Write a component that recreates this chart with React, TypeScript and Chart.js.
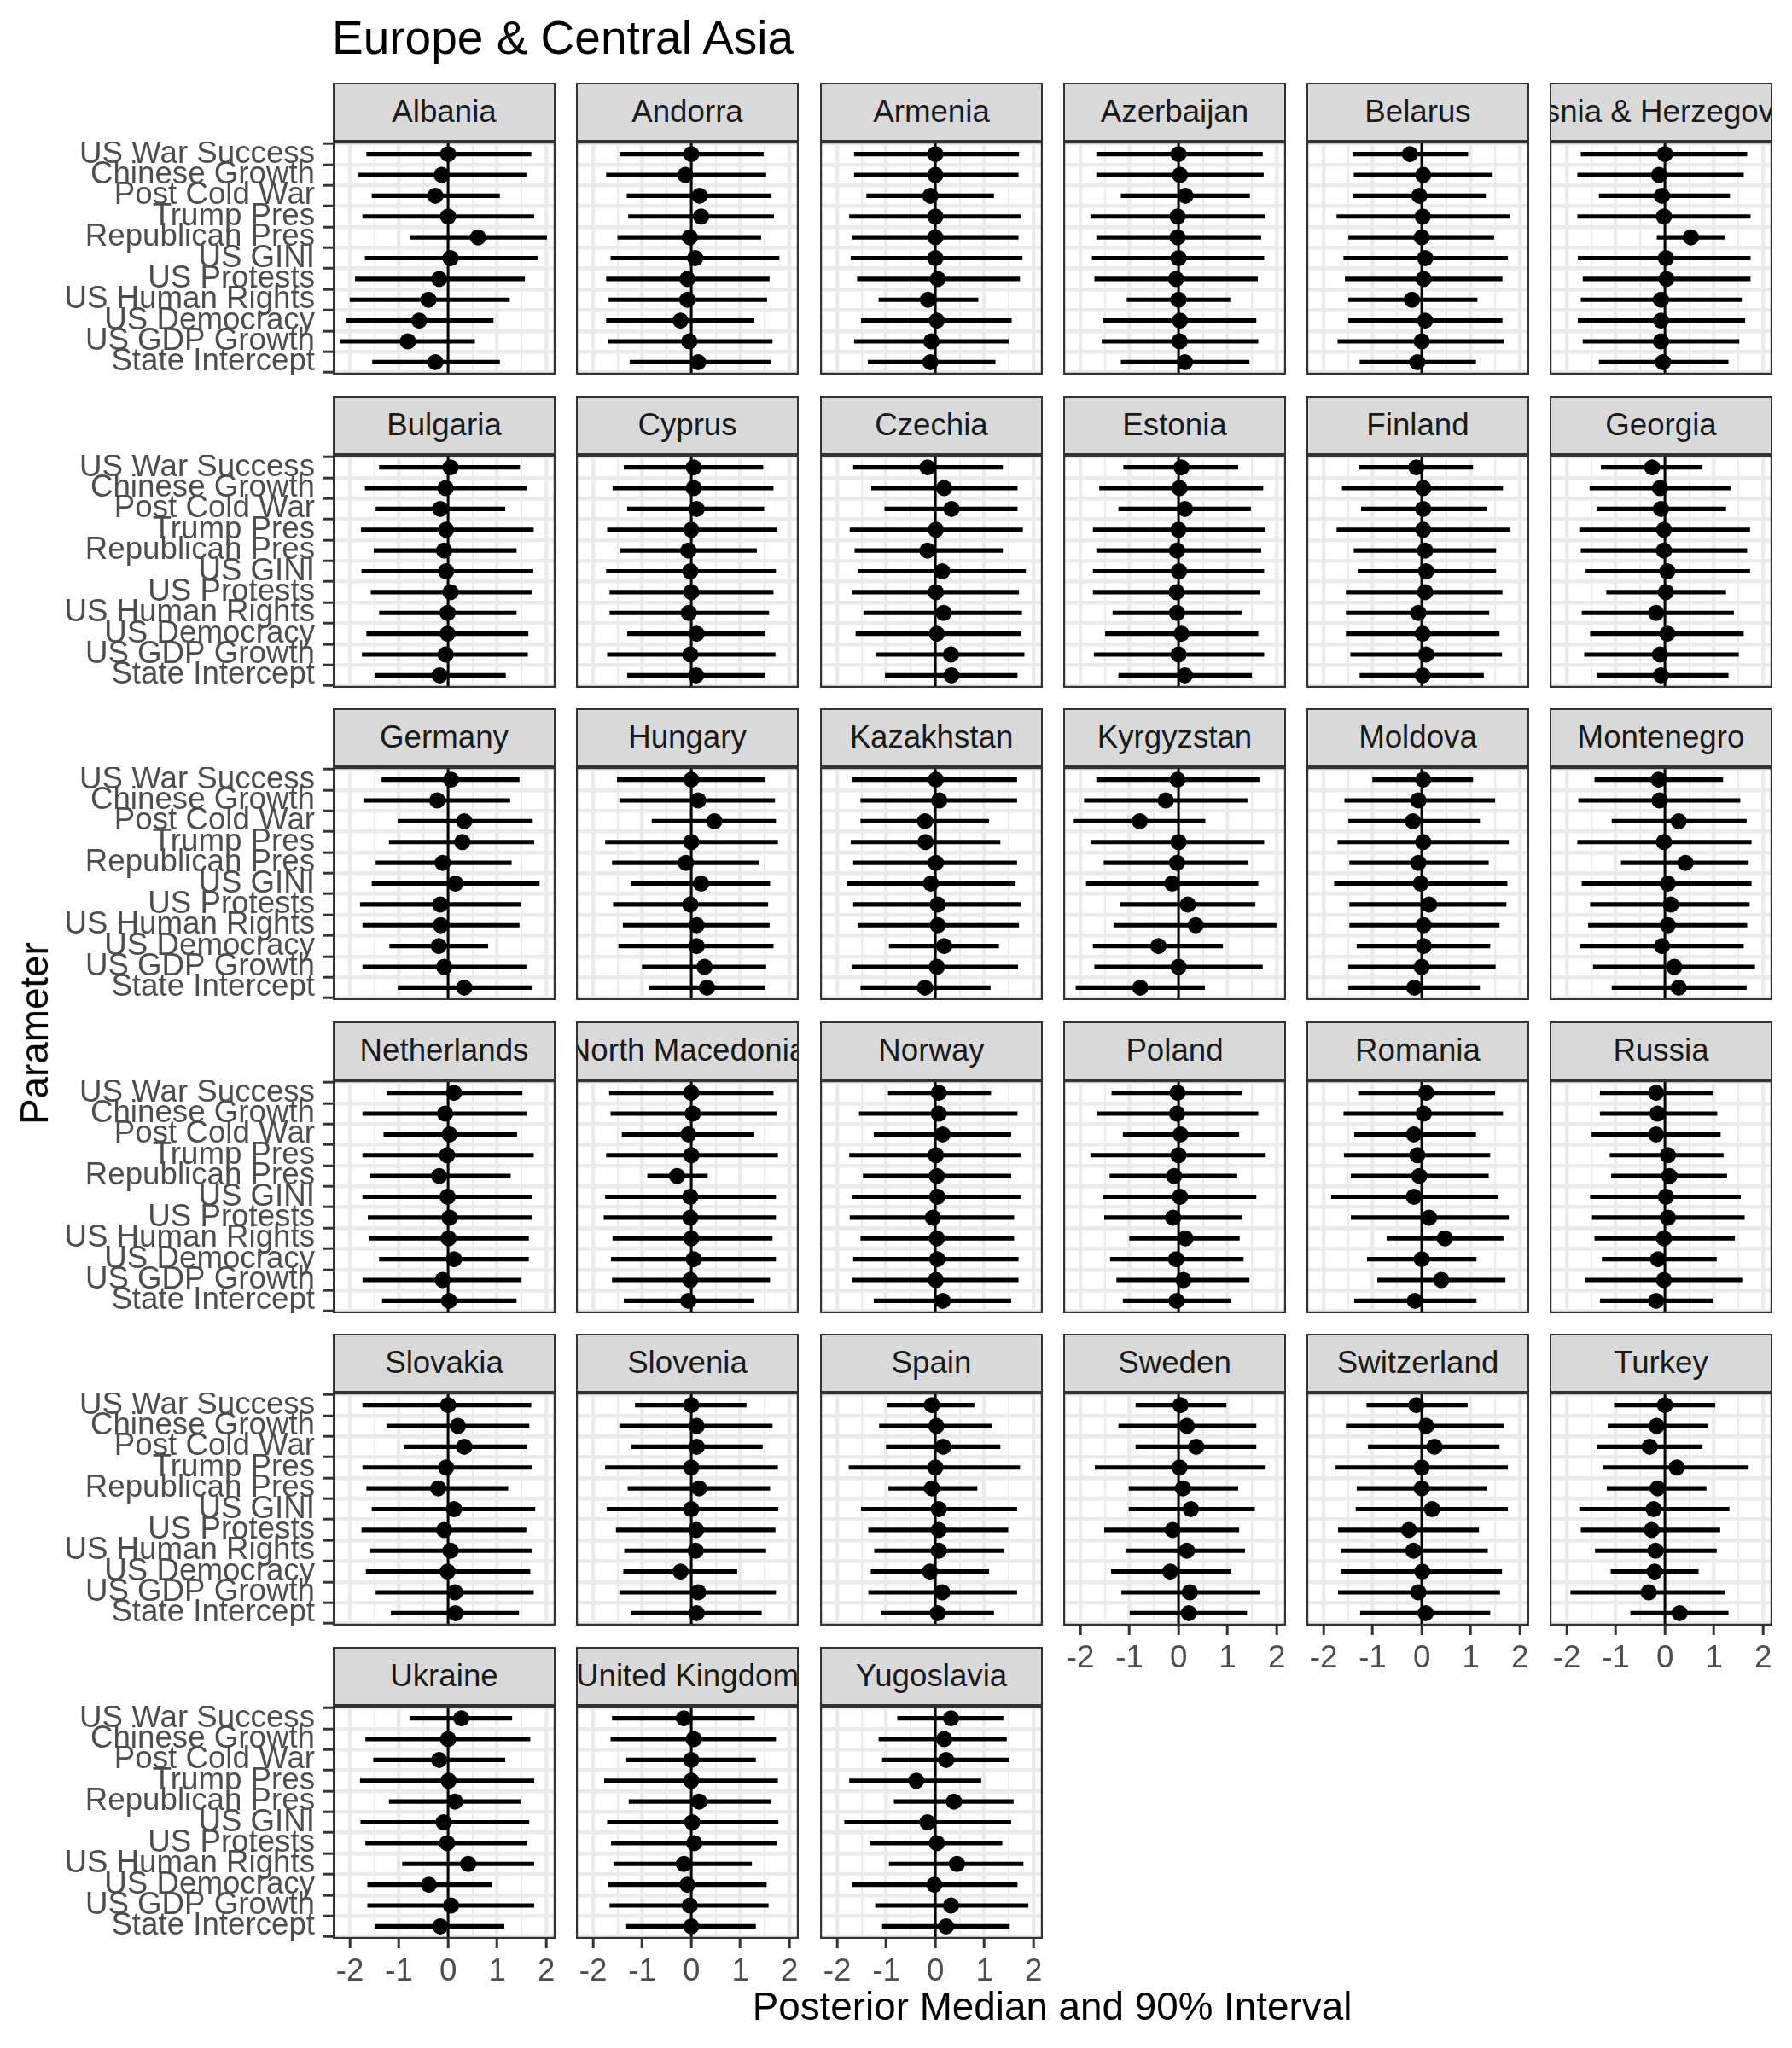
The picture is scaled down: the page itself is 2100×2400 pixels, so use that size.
import React, { useEffect, useRef } from 'react';
import { Chart, registerables } from 'chart.js';

Chart.register(...registerables);

// ---------------- data ----------------
const TITLE = 'Europe & Central Asia';
const X_TITLE = 'Posterior Median and 90% Interval';
const Y_TITLE = 'Parameter';

const PARAMETERS = [
  'US War Success',
  'Chinese Growth',
  'Post Cold War',
  'Trump Pres',
  'Republican Pres',
  'US GINI',
  'US Protests',
  'US Human Rights',
  'US Democracy',
  'US GDP Growth',
  'State Intercept',
];

const COUNTRIES = [
  'Albania', 'Andorra', 'Armenia', 'Azerbaijan', 'Belarus', 'Bosnia & Herzegovina',
  'Bulgaria', 'Cyprus', 'Czechia', 'Estonia', 'Finland', 'Georgia',
  'Germany', 'Hungary', 'Kazakhstan', 'Kyrgyzstan', 'Moldova', 'Montenegro',
  'Netherlands', 'North Macedonia', 'Norway', 'Poland', 'Romania', 'Russia',
  'Slovakia', 'Slovenia', 'Spain', 'Sweden', 'Switzerland', 'Turkey',
  'Ukraine', 'United Kingdom', 'Yugoslavia',
];

const X_MAJOR_TICKS = [-2, -1, 0, 1, 2];
const X_MINOR_TICKS = [-1.5, -0.5, 0.5, 1.5];

// lower bound of 90% interval, one row per country, in PARAMETERS order
const LOWER: number[][] = [
  [-1.66, -1.83, -1.55, -1.74, -0.77, -1.69, -1.89, -2.0, -2.07, -2.19, -1.54], // Albania
  [-1.45, -1.73, -1.31, -1.28, -1.5, -1.64, -1.73, -1.68, -1.73, -1.69, -1.25], // Andorra
  [-1.65, -1.65, -1.4, -1.75, -1.69, -1.72, -1.59, -1.15, -1.51, -1.65, -1.37], // Armenia
  [-1.67, -1.67, -1.17, -1.79, -1.67, -1.76, -1.71, -1.05, -1.53, -1.56, -1.17], // Azerbaijan
  [-1.4, -1.38, -1.4, -1.73, -1.49, -1.59, -1.56, -1.49, -1.49, -1.71, -1.26], // Belarus
  [-1.71, -1.78, -1.34, -1.78, -0.16, -1.77, -1.67, -1.71, -1.77, -1.67, -1.34], // Bosnia
  [-1.4, -1.69, -1.47, -1.77, -1.51, -1.76, -1.57, -1.4, -1.66, -1.75, -1.49], // Bulgaria
  [-1.37, -1.6, -1.3, -1.71, -1.44, -1.73, -1.66, -1.66, -1.3, -1.71, -1.3], // Cyprus
  [-1.67, -1.3, -1.03, -1.74, -1.64, -1.57, -1.69, -1.46, -1.62, -1.21, -1.02], // Czechia
  [-1.12, -1.61, -1.22, -1.74, -1.67, -1.74, -1.74, -1.34, -1.49, -1.72, -1.22], // Estonia
  [-1.28, -1.62, -1.23, -1.73, -1.38, -1.3, -1.54, -1.54, -1.54, -1.45, -1.26], // Finland
  [-1.3, -1.53, -1.38, -1.74, -1.71, -1.61, -1.19, -1.69, -1.52, -1.64, -1.38], // Georgia
  [-1.35, -1.72, -1.02, -1.2, -1.47, -1.55, -1.79, -1.74, -1.19, -1.74, -1.02], // Germany
  [-1.51, -1.46, -0.8, -1.75, -1.61, -1.22, -1.59, -1.39, -1.48, -1.0, -0.86], // Hungary
  [-1.7, -1.52, -1.52, -1.72, -1.67, -1.8, -1.67, -1.58, -0.94, -1.7, -1.52], // Kazakhstan
  [-1.67, -1.92, -2.13, -1.79, -1.52, -1.88, -1.18, -1.32, -1.74, -1.71, -2.09], // Kyrgyzstan
  [-1.0, -1.57, -1.49, -1.71, -1.47, -1.78, -1.47, -1.47, -1.32, -1.49, -1.49], // Moldova
  [-1.43, -1.76, -1.08, -1.78, -0.89, -1.69, -1.52, -1.56, -1.72, -1.46, -1.08], // Montenegro
  [-1.25, -1.74, -1.31, -1.74, -1.58, -1.74, -1.63, -1.6, -1.4, -1.74, -1.34], // Netherlands
  [-1.67, -1.64, -1.41, -1.73, -0.89, -1.75, -1.78, -1.6, -1.63, -1.61, -1.37], // North Macedonia
  [-0.96, -1.55, -1.25, -1.75, -1.47, -1.69, -1.74, -1.52, -1.67, -1.69, -1.25], // Norway
  [-1.36, -1.65, -1.13, -1.79, -1.4, -1.54, -1.51, -1.0, -1.39, -1.26, -1.13], // Poland
  [-1.29, -1.59, -1.37, -1.58, -1.44, -1.84, -1.44, -0.71, -1.11, -0.9, -1.37], // Romania
  [-1.32, -1.32, -1.49, -1.12, -1.09, -1.52, -1.48, -1.43, -1.28, -1.62, -1.32], // Russia
  [-1.74, -1.25, -0.89, -1.74, -1.66, -1.55, -1.76, -1.58, -1.67, -1.47, -1.16], // Slovakia
  [-1.14, -1.46, -1.22, -1.75, -1.29, -1.72, -1.53, -1.36, -1.38, -1.46, -1.22], // Slovenia
  [-0.97, -1.14, -1.0, -1.76, -0.95, -1.51, -1.36, -1.24, -1.31, -1.36, -1.11], // Spain
  [-0.87, -1.22, -0.87, -1.7, -1.01, -1.01, -1.51, -1.06, -1.37, -1.16, -0.99], // Sweden
  [-1.12, -1.54, -1.09, -1.75, -1.32, -1.34, -1.7, -1.64, -1.64, -1.7, -1.25], // Switzerland
  [-1.03, -1.16, -1.37, -1.25, -1.18, -1.74, -1.71, -1.42, -1.1, -1.92, -0.7], // Turkey
  [-0.78, -1.68, -1.52, -1.79, -1.2, -1.78, -1.68, -0.93, -1.64, -1.64, -1.49], // Ukraine
  [-1.61, -1.64, -1.32, -1.77, -1.27, -1.71, -1.63, -1.58, -1.69, -1.66, -1.32], // United Kingdom
  [-0.77, -1.15, -1.08, -1.75, -0.84, -1.85, -1.32, -0.94, -1.69, -1.22, -1.08], // Yugoslavia
];

// posterior median
const MEDIAN: number[][] = [
  [0, -0.13, -0.26, 0, 0.61, 0.05, -0.18, -0.4, -0.59, -0.82, -0.26], // Albania
  [0, -0.12, 0.17, 0.2, -0.03, 0.08, -0.08, -0.08, -0.22, -0.04, 0.14], // Andorra
  [0, 0, -0.1, 0, 0, 0, 0.05, -0.15, 0.03, -0.08, -0.1], // Armenia
  [0, 0.03, 0.14, -0.02, -0.02, 0, -0.05, 0, 0.03, 0.02, 0.13], // Azerbaijan
  [-0.24, 0.03, -0.05, 0.02, 0, 0.07, 0.04, -0.2, 0.07, 0, -0.09], // Belarus
  [0, -0.12, -0.06, -0.02, 0.53, 0.02, 0.03, -0.08, -0.08, -0.08, -0.04], // Bosnia
  [0.05, -0.05, -0.16, -0.04, -0.08, -0.04, 0.05, -0.01, -0.01, -0.05, -0.17], // Bulgaria
  [0.05, 0.05, 0.11, 0, -0.06, -0.02, 0, -0.05, 0.11, -0.02, 0.1], // Cyprus
  [-0.16, 0.18, 0.33, 0.01, -0.16, 0.14, 0.01, 0.17, 0.03, 0.32, 0.33], // Czechia
  [0.06, 0.02, 0.13, 0, -0.03, 0.01, -0.04, -0.03, 0.06, 0, 0.13], // Estonia
  [-0.11, 0.03, 0.03, 0.03, 0.07, 0.09, 0.07, -0.07, 0.02, 0.09, 0.02], // Finland
  [-0.26, -0.1, -0.08, -0.02, -0.02, 0.05, 0.02, -0.18, 0.05, -0.1, -0.08], // Georgia
  [0.06, -0.22, 0.33, 0.29, -0.11, 0.15, -0.16, -0.15, -0.19, -0.08, 0.33], // Germany
  [0, 0.14, 0.47, 0, -0.11, 0.2, -0.02, 0.11, 0.11, 0.27, 0.32], // Hungary
  [0.01, 0.08, -0.21, -0.2, 0.01, -0.09, 0.05, 0.05, 0.18, 0.03, -0.21], // Kazakhstan
  [-0.02, -0.26, -0.79, 0, -0.03, -0.13, 0.19, 0.35, -0.41, 0, -0.78], // Kyrgyzstan
  [0.03, -0.07, -0.18, 0.03, -0.07, -0.02, 0.15, 0.04, 0.04, 0, -0.15], // Moldova
  [-0.13, -0.11, 0.28, -0.02, 0.42, 0.06, 0.12, 0.06, -0.06, 0.19, 0.28], // Montenegro
  [0.12, -0.06, 0.03, -0.02, -0.18, -0.01, 0.03, 0.01, 0.12, -0.11, 0.02], // Netherlands
  [0, 0.03, -0.06, 0, -0.29, -0.02, -0.02, 0, 0.05, -0.02, -0.06], // North Macedonia
  [0.07, 0.07, 0.15, 0.01, 0.03, 0.04, -0.05, 0.03, 0.04, 0.01, 0.15], // Norway
  [-0.02, -0.03, 0.04, 0, -0.09, 0.03, -0.11, 0.14, -0.05, 0.1, -0.04], // Poland
  [0.09, 0.04, -0.16, -0.09, -0.05, -0.16, 0.15, 0.47, 0, 0.4, -0.14], // Romania
  [-0.18, -0.15, -0.18, 0.06, 0.09, 0.02, 0.06, -0.02, -0.14, -0.02, -0.18], // Russia
  [0, 0.2, 0.33, -0.04, -0.2, 0.12, -0.08, 0.05, -0.01, 0.14, 0.15], // Slovakia
  [0, 0.11, 0.11, 0, 0.16, 0, 0.1, 0.09, -0.22, 0.14, 0.11], // Slovenia
  [-0.07, 0.02, 0.16, 0, -0.07, 0.07, 0.07, 0.07, -0.11, 0.14, 0.05], // Spain
  [0.04, 0.17, 0.36, 0.02, 0.09, 0.25, -0.12, 0.17, -0.17, 0.23, 0.21], // Sweden
  [-0.11, 0.09, 0.26, 0, 0, 0.21, -0.26, -0.17, 0.01, -0.07, 0.08], // Switzerland
  [0, -0.17, -0.31, 0.24, -0.15, -0.23, -0.27, -0.19, -0.21, -0.33, 0.3], // Turkey
  [0.27, 0, -0.18, 0.01, 0.14, -0.09, -0.02, 0.41, -0.39, 0.06, -0.16], // Ukraine
  [-0.15, 0.05, 0, 0, 0.16, 0.02, 0.06, -0.15, -0.08, -0.03, 0], // United Kingdom
  [0.32, 0.18, 0.22, -0.39, 0.38, -0.16, 0.03, 0.44, -0.02, 0.32, 0.22], // Yugoslavia
];

// upper bound of 90% interval
const UPPER: number[][] = [
  [1.69, 1.59, 1.05, 1.75, 2.01, 1.82, 1.56, 1.25, 0.92, 0.54, 1.05], // Albania
  [1.47, 1.52, 1.63, 1.68, 1.42, 1.79, 1.59, 1.54, 1.28, 1.65, 1.61], // Andorra
  [1.7, 1.69, 1.19, 1.74, 1.69, 1.77, 1.72, 0.87, 1.55, 1.49, 1.22], // Armenia
  [1.71, 1.73, 1.45, 1.76, 1.68, 1.74, 1.61, 1.05, 1.58, 1.62, 1.44], // Azerbaijan
  [0.94, 1.44, 1.3, 1.79, 1.47, 1.75, 1.64, 1.13, 1.64, 1.67, 1.1], // Belarus
  [1.67, 1.6, 1.32, 1.74, 1.21, 1.74, 1.74, 1.56, 1.63, 1.51, 1.29], // Bosnia
  [1.46, 1.6, 1.16, 1.74, 1.39, 1.73, 1.71, 1.39, 1.63, 1.62, 1.17], // Bulgaria
  [1.46, 1.67, 1.48, 1.74, 1.33, 1.72, 1.67, 1.58, 1.5, 1.71, 1.5], // Cyprus
  [1.37, 1.67, 1.67, 1.78, 1.37, 1.84, 1.7, 1.76, 1.74, 1.81, 1.67], // Czechia
  [1.21, 1.72, 1.47, 1.76, 1.68, 1.74, 1.66, 1.29, 1.62, 1.74, 1.49], // Estonia
  [1.04, 1.65, 1.32, 1.8, 1.51, 1.51, 1.64, 1.37, 1.58, 1.63, 1.26], // Finland
  [0.76, 1.33, 1.24, 1.73, 1.67, 1.73, 1.24, 1.4, 1.6, 1.5, 1.29], // Georgia
  [1.45, 1.26, 1.72, 1.75, 1.29, 1.86, 1.48, 1.45, 0.81, 1.59, 1.7], // Germany
  [1.5, 1.7, 1.72, 1.76, 1.38, 1.6, 1.56, 1.59, 1.67, 1.52, 1.5], // Hungary
  [1.66, 1.66, 1.09, 1.32, 1.66, 1.63, 1.74, 1.7, 1.29, 1.68, 1.12], // Kazakhstan
  [1.65, 1.4, 0.54, 1.74, 1.42, 1.62, 1.56, 1.99, 0.9, 1.71, 0.53], // Kyrgyzstan
  [1.04, 1.49, 1.18, 1.77, 1.36, 1.74, 1.72, 1.58, 1.39, 1.5, 1.18], // Moldova
  [1.18, 1.53, 1.66, 1.76, 1.7, 1.76, 1.72, 1.67, 1.6, 1.83, 1.66], // Montenegro
  [1.51, 1.6, 1.4, 1.74, 1.27, 1.71, 1.71, 1.64, 1.64, 1.49, 1.39], // Netherlands
  [1.67, 1.74, 1.28, 1.76, 0.33, 1.72, 1.72, 1.65, 1.72, 1.6, 1.28], // North Macedonia
  [1.13, 1.67, 1.54, 1.74, 1.54, 1.73, 1.6, 1.6, 1.69, 1.69, 1.54], // Norway
  [1.29, 1.62, 1.23, 1.77, 1.19, 1.58, 1.29, 1.24, 1.32, 1.44, 1.07], // Poland
  [1.49, 1.65, 1.1, 1.39, 1.36, 1.56, 1.77, 1.66, 1.11, 1.7, 1.11], // Romania
  [0.98, 1.06, 1.13, 1.19, 1.26, 1.54, 1.62, 1.42, 1.05, 1.57, 0.98], // Russia
  [1.69, 1.65, 1.6, 1.71, 1.22, 1.77, 1.59, 1.71, 1.67, 1.74, 1.44], // Slovakia
  [1.12, 1.65, 1.45, 1.76, 1.6, 1.77, 1.71, 1.52, 0.93, 1.72, 1.43], // Slovenia
  [0.79, 1.14, 1.32, 1.72, 0.85, 1.66, 1.48, 1.39, 1.09, 1.66, 1.19], // Spain
  [0.97, 1.58, 1.58, 1.77, 1.21, 1.55, 1.23, 1.35, 1.07, 1.65, 1.39], // Sweden
  [0.93, 1.67, 1.58, 1.75, 1.32, 1.75, 1.16, 1.34, 1.63, 1.59, 1.39], // Switzerland
  [1.02, 0.87, 0.76, 1.7, 0.84, 1.31, 1.12, 1.05, 0.68, 1.21, 1.29], // Turkey
  [1.3, 1.67, 1.16, 1.75, 1.47, 1.65, 1.61, 1.75, 0.88, 1.75, 1.14], // Ukraine
  [1.29, 1.72, 1.31, 1.76, 1.63, 1.77, 1.74, 1.23, 1.53, 1.57, 1.31], // United Kingdom
  [1.38, 1.45, 1.5, 0.93, 1.59, 1.54, 1.36, 1.79, 1.67, 1.89, 1.51], // Yugoslavia
];

// ---------------- layout & style ----------------
const FONT = "'Liberation Sans', Arial, Helvetica, sans-serif";
const N_COLS = 6;
const COL_LEFT = [390, 675, 961, 1246, 1531, 1816];
const PANEL_W = 261;
const STRIP_TOP = [97, 464, 830, 1197, 1563, 1930];
const STRIP_H = 69;
const PANEL_H = 273;
const Y_AXIS_W = 390;
const X_AXIS_H = 70;
const X_MIN = -2.35;
const X_MAX = 2.19;
const Y_MIN = -0.6;
const Y_MAX = PARAMETERS.length - 1 + 0.6;
const AXIS_FONT = 36.7;

const panelBorder = {
  id: 'panelBorder',
  afterDraw(chart: any) {
    const { ctx, chartArea: a } = chart;
    ctx.save();
    ctx.strokeStyle = '#333333';
    ctx.lineWidth = 2.2;
    ctx.strokeRect(a.left + 1.1, a.top + 1.1, a.right - a.left - 2.2, a.bottom - a.top - 2.2);
    ctx.restore();
  },
};

function isMajor(v: number) {
  return X_MAJOR_TICKS.includes(v);
}

function Panel({ idx }: { idx: number }) {
  const ref = useRef<HTMLCanvasElement>(null);
  const r = Math.floor(idx / N_COLS);
  const c = idx % N_COLS;
  const isLeft = c === 0;
  const isBottom = idx + N_COLS >= COUNTRIES.length;
  const left = isLeft ? 0 : COL_LEFT[c];
  const top = STRIP_TOP[r] + STRIP_H;
  const w = (isLeft ? Y_AXIS_W : 0) + PANEL_W;
  const h = PANEL_H + (isBottom ? X_AXIS_H : 0);

  useEffect(() => {
    const intervals = PARAMETERS.map((_, i) => ({ x: [LOWER[idx][i], UPPER[idx][i]], y: i }));
    const medians = PARAMETERS.map((_, i) => ({ x: MEDIAN[idx][i], y: i }));
    const zeroLine = [
      { x: 0, y: Y_MIN },
      { x: 0, y: Y_MAX },
    ];
    const chart = new Chart(ref.current as HTMLCanvasElement, {
      type: 'scatter',
      data: {
        datasets: [
          {
            type: 'line',
            data: zeroLine,
            borderColor: '#000000',
            borderWidth: 3,
            pointRadius: 0,
            order: 3,
          } as any,
          {
            type: 'bar',
            indexAxis: 'y',
            data: intervals,
            backgroundColor: '#000000',
            borderWidth: 0,
            barThickness: 4.4,
            order: 2,
          } as any,
          {
            type: 'scatter',
            data: medians,
            pointRadius: 9.5,
            pointHoverRadius: 9.5,
            backgroundColor: '#000000',
            borderWidth: 0,
            order: 1,
          } as any,
        ],
      },
      options: {
        animation: false,
        responsive: false,
        devicePixelRatio: 1,
        events: [],
        layout: { padding: 0, autoPadding: false },
        plugins: { legend: { display: false }, tooltip: { enabled: false }, title: { display: false } },
        scales: {
          x: {
            type: 'linear',
            min: X_MIN,
            max: X_MAX,
            offset: false,
            position: 'bottom',
            afterBuildTicks: (s: any) => {
              s.ticks = [...X_MINOR_TICKS, ...X_MAJOR_TICKS].sort((a, b) => a - b).map((v) => ({ value: v }));
            },
            afterFit: (s: any) => {
              s.height = isBottom ? X_AXIS_H : 0;
              s.paddingLeft = 0;
              s.paddingRight = 0;
              s.paddingTop = 0;
              s.paddingBottom = 0;
            },
            ticks: {
              display: isBottom,
              autoSkip: false,
              maxRotation: 0,
              minRotation: 0,
              padding: 6,
              color: '#4D4D4D',
              font: { family: FONT, size: AXIS_FONT },
              callback: (v: any) => (isMajor(Number(v)) ? String(v) : ''),
            },
            grid: {
              offset: false,
              color: '#EBEBEB',
              lineWidth: (ctx: any) => (ctx.tick && isMajor(ctx.tick.value) ? 4.4 : 2.2),
              drawTicks: isBottom,
              tickLength: 11,
              tickWidth: 3,
              tickColor: (ctx: any) => (ctx.tick && isMajor(ctx.tick.value) ? '#333333' : 'rgba(0,0,0,0)'),
            },
            border: { display: false },
          },
          y: {
            type: 'linear',
            min: Y_MIN,
            max: Y_MAX,
            reverse: true,
            offset: false,
            position: 'left',
            afterBuildTicks: (s: any) => {
              s.ticks = PARAMETERS.map((_, i) => ({ value: i }));
            },
            afterFit: (s: any) => {
              s.width = isLeft ? Y_AXIS_W : 0;
              s.paddingLeft = 0;
              s.paddingRight = 0;
              s.paddingTop = 0;
              s.paddingBottom = 0;
            },
            ticks: {
              display: isLeft,
              autoSkip: false,
              padding: 10,
              color: '#4D4D4D',
              font: { family: FONT, size: AXIS_FONT },
              callback: (v: any) => PARAMETERS[Number(v)] ?? '',
            },
            grid: {
              color: '#EBEBEB',
              lineWidth: 4.4,
              drawTicks: isLeft,
              tickLength: 11,
              tickWidth: 3,
              tickColor: '#333333',
            },
            border: { display: false },
          },
        },
      } as any,
      plugins: [panelBorder],
    });
    return () => chart.destroy();
  }, [idx]);

  return (
    <canvas
      ref={ref}
      width={w}
      height={h}
      style={{ position: 'absolute', left, top, width: w, height: h }}
    />
  );
}

function Strip({ idx }: { idx: number }) {
  const r = Math.floor(idx / N_COLS);
  const c = idx % N_COLS;
  return (
    <div
      style={{
        position: 'absolute',
        left: COL_LEFT[c],
        top: STRIP_TOP[r],
        width: PANEL_W,
        height: STRIP_H,
        boxSizing: 'border-box',
        border: '2.2px solid #333333',
        background: '#D9D9D9',
        overflow: 'hidden',
        display: 'flex',
        alignItems: 'center',
        justifyContent: 'center',
      }}
    >
      <span style={{ fontSize: AXIS_FONT, lineHeight: 1, color: '#1A1A1A', whiteSpace: 'nowrap', flexShrink: 0 }}>
        {COUNTRIES[idx]}
      </span>
    </div>
  );
}

export default function App() {
  return (
    <div
      style={{
        position: 'absolute',
        left: 0,
        top: 0,
        width: 2100,
        height: 2400,
        background: '#FFFFFF',
        overflow: 'hidden',
        fontFamily: FONT,
      }}
    >
      <div style={{ position: 'absolute', left: 389, top: 16.7, fontSize: 55, lineHeight: 1, color: '#000000', whiteSpace: 'nowrap' }}>
        {TITLE}
      </div>
      {COUNTRIES.map((_, k) => (
        <Strip key={'s' + k} idx={k} />
      ))}
      {COUNTRIES.map((_, k) => (
        <Panel key={'p' + k} idx={k} />
      ))}
      <div
        style={{
          position: 'absolute',
          left: 1233,
          top: 2329,
          transform: 'translateX(-50%)',
          fontSize: 45.8,
          lineHeight: 1,
          color: '#000000',
          whiteSpace: 'nowrap',
        }}
      >
        {X_TITLE}
      </div>
      <div
        style={{
          position: 'absolute',
          left: 41,
          top: 1211,
          transform: 'translate(-50%, -50%) rotate(-90deg)',
          fontSize: 45.8,
          lineHeight: 1,
          color: '#000000',
          whiteSpace: 'nowrap',
        }}
      >
        {Y_TITLE}
      </div>
    </div>
  );
}
